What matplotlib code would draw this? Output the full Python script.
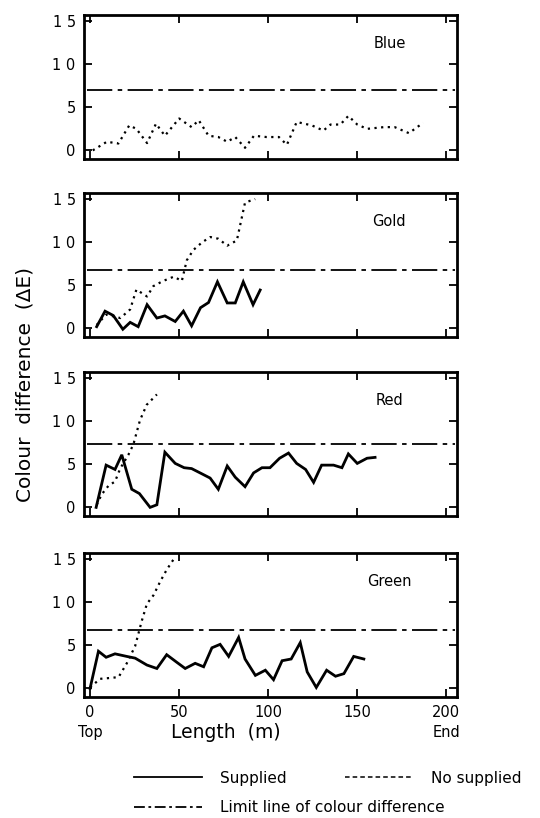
import matplotlib
matplotlib.use("Agg")
import matplotlib.pyplot as plt
from matplotlib.lines import Line2D

# Blue: only the "no supplied" run was plotted
blue_ns_x = [1.5, 9.4, 15.9, 22, 26, 32, 37, 42, 50, 57, 61, 66.5, 72, 77, 81.5, 87, 92,
             99, 106, 110.5, 116, 124.5, 131, 135, 140.5, 145, 150, 155.5, 165, 171, 179, 187]
blue_ns_y = [0, 1.0, 0.8, 2.9, 2.5, 0.85, 3.1, 1.7, 3.7, 2.7, 3.5, 1.7, 1.55, 1.0, 1.55, 0.3, 1.7,
             1.55, 1.55, 0.65, 3.3, 2.9, 2.3, 3.0, 3.0, 4.0, 3.0, 2.5, 2.7, 2.7, 2.0, 3.2]

gold_s_x = [3.7, 8.4, 13, 18.4, 22.5, 27, 32, 37.5, 42, 47.8, 52.4, 57, 62, 66.5, 71.5, 77,
            81.5, 86, 91.5, 95.5]
gold_s_y = [0.2, 2.0, 1.5, -0.1, 0.7, 0.2, 2.75, 1.2, 1.45, 0.8, 2.0, 0.3, 2.4, 3.0, 5.4, 2.95,
            2.95, 5.4, 2.75, 4.45]
gold_ns_x = [3.7, 9, 17, 22.5, 26, 32, 35.5, 41, 47, 51.5, 54.3, 58, 63, 67.5, 72, 77, 82.4, 87, 92.7]
gold_ns_y = [0.4, 1.6, 1.2, 2.2, 4.5, 3.7, 4.9, 5.5, 6.0, 5.5, 7.9, 9.1, 10.0, 10.6, 10.4, 9.6,
             10.2, 14.6, 15.0]

red_s_x = [3.4, 9, 14, 17.8, 23.4, 27.7, 33.7, 37.5, 42, 47.8, 52.8, 57, 62.7, 67.4, 72, 77,
           81.5, 87, 91.8, 96.5, 101, 106.4, 111.4, 116, 121, 125.5, 130, 136.7, 141.4, 145,
           150, 155.5, 160]
red_s_y = [0, 4.9, 4.4, 6.1, 2.1, 1.6, 0, 0.3, 6.4, 5.1, 4.6, 4.5, 3.9, 3.4, 2.1, 4.8,
           3.5, 2.4, 4.0, 4.6, 4.6, 5.7, 6.3, 5.1, 4.4, 2.9, 4.9, 4.9, 4.6, 6.2,
           5.1, 5.7, 5.8]
red_ns_x = [3.7, 6.5, 10.3, 14, 16.9, 21.5, 24.3, 28, 31.8, 37.5]
red_ns_y = [0.3, 1.5, 2.5, 3.0, 4.5, 6.1, 7.3, 10.1, 11.9, 13.1]

green_s_x = [0, 4.7, 9, 14, 20.6, 25.3, 31.9, 37.5, 43, 48.8, 53.4, 59, 63.75, 68.4, 73, 77.8,
             83.4, 87, 92.8, 98.4, 103, 107.8, 112.9, 118, 121.9, 127, 132.8, 137.8, 142.5,
             148, 153.7]
green_s_y = [0, 4.3, 3.6, 4.0, 3.7, 3.5, 2.7, 2.3, 3.9, 3.0, 2.3, 2.9, 2.5, 4.7, 5.1, 3.7,
             5.9, 3.4, 1.5, 2.1, 1.0, 3.2, 3.4, 5.3, 1.9, 0.1, 2.1, 1.4, 1.7,
             3.7, 3.4]
green_ns_x = [0, 5.6, 11.25, 16, 20.6, 25.3, 29, 31.9, 35.6, 39.4, 43, 47]
green_ns_y = [0.1, 1.1, 1.2, 1.3, 2.9, 4.9, 7.8, 9.8, 10.8, 12.4, 13.75, 15.0]

limits = [7.05, 6.8, 7.3, 6.75]
names = ["Blue", "Gold", "Red", "Green"]

panels = [
    (None, None, blue_ns_x, blue_ns_y),
    (gold_s_x, gold_s_y, gold_ns_x, gold_ns_y),
    (red_s_x, red_s_y, red_ns_x, red_ns_y),
    (green_s_x, green_s_y, green_ns_x, green_ns_y),
]

yticks = [0, 5, 10, 15]
ytick_labels = ["0", "5", "1 0", "1 5"]
xticks = [0, 50, 100, 150, 200]

fig = plt.figure(figsize=(5.4, 8.18), dpi=100)
left, width, h = 0.1556, 0.6907, 0.176
bottoms = [0.8056, 0.588, 0.3692, 0.148]

limit_style = (0, (14, 3, 2.5, 3))

for i, (sx, sy, nx, ny) in enumerate(panels):
    ax = fig.add_axes([left, bottoms[i], width, h])
    if sx is not None:
        ax.plot(sx, sy, color="black", lw=2.0, solid_joinstyle="miter")
    ax.plot(nx, ny, color="black", lw=1.6, linestyle=(0, (1, 2)))
    ax.plot([-2, 205], [limits[i], limits[i]], color="black", lw=1.3, linestyle=limit_style)
    ax.set_xlim(-3.4, 206)
    ax.set_ylim(-1.0, 15.7)
    ax.set_yticks(yticks)
    ax.set_yticklabels(ytick_labels, fontsize=10.5)
    ax.set_xticks(xticks)
    ax.tick_params(direction="in", top=True, right=True, length=6, width=1.3, pad=6)
    for s in ax.spines.values():
        s.set_linewidth(2.0)
    ax.text(168, 12.4, names[i], ha="center", va="center", fontsize=10.5)
    if i < 3:
        ax.set_xticklabels([])
    else:
        ax.set_xticklabels([str(t) for t in xticks], fontsize=10.5)
        ax.text(0, -0.25, "Top", transform=ax.get_xaxis_transform(), ha="center",
                va="center", fontsize=10.5)
        ax.text(200, -0.25, "End", transform=ax.get_xaxis_transform(), ha="center",
                va="center", fontsize=10.5)
        ax.text(76, -0.25, "Length  (m)", transform=ax.get_xaxis_transform(),
                ha="center", va="center", fontsize=13.5)

fig.text(25 / 540, 1 - 385 / 818, "Colour  difference  (ΔE)", rotation=90,
         ha="center", va="center", fontsize=14.5)

h_s = Line2D([], [], color="black", lw=1.3)
h_ns = Line2D([], [], color="black", lw=1.1, linestyle=(0, (3, 2)))
h_lim = Line2D([], [], color="black", lw=1.3, linestyle=(0, (6, 2, 1.5, 2)))
fig.legend([h_s, h_ns], ["Supplied", "No supplied"], ncol=2, frameon=False,
           loc="center left", bbox_to_anchor=(120 / 540, 1 - 778 / 818),
           fontsize=11, handlelength=4.45, handletextpad=1.2, columnspacing=3.8)
fig.legend([h_lim], ["Limit line of colour difference"], frameon=False,
           loc="center left", bbox_to_anchor=(120 / 540, 1 - 808 / 818),
           fontsize=11, handlelength=4.45, handletextpad=1.2)

fig.savefig("out.png", dpi=100)
